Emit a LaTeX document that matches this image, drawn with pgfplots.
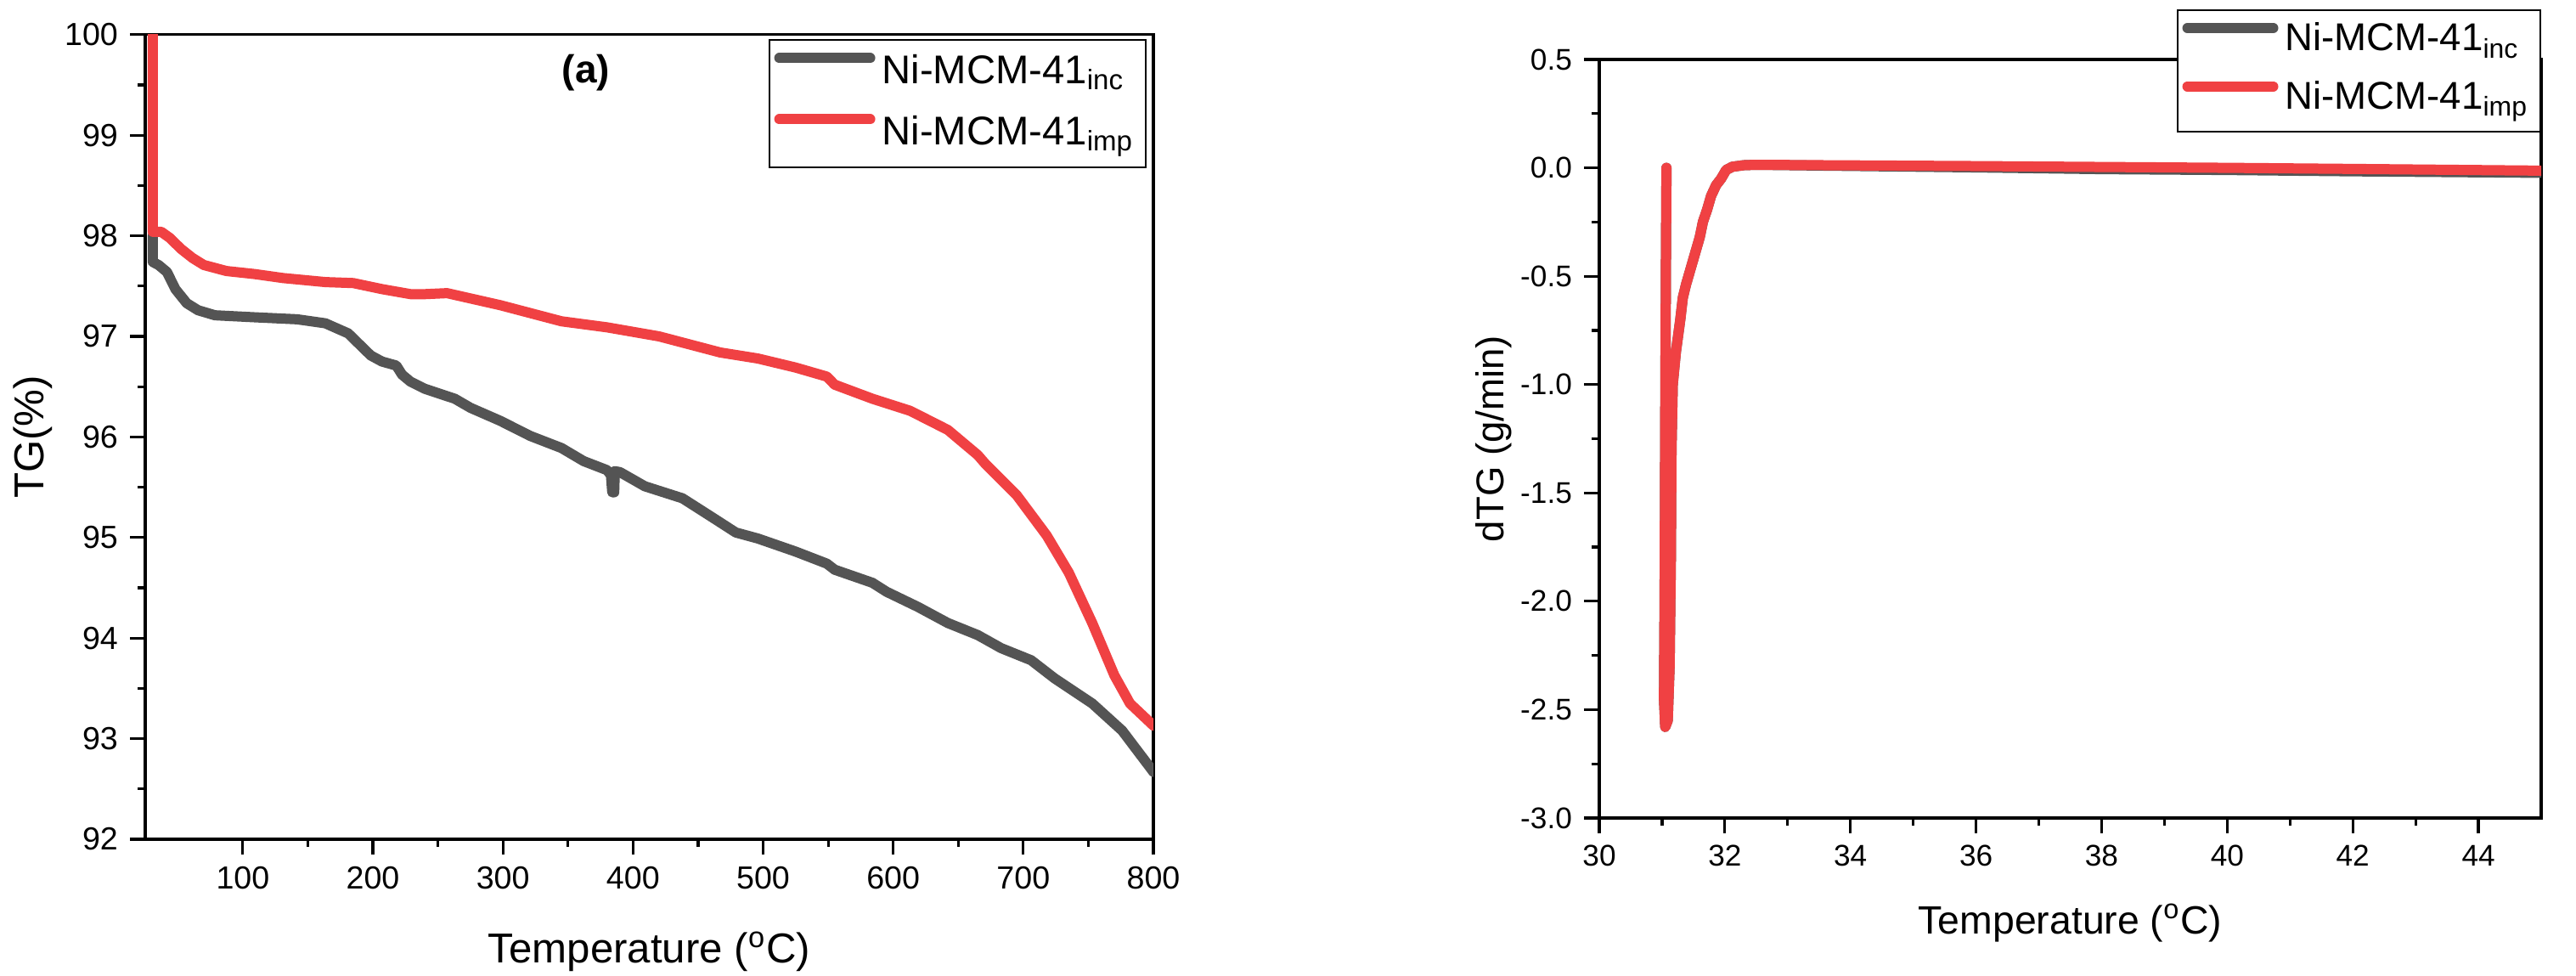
\documentclass[border=0pt]{standalone}
\usepackage{fontspec}
\setmainfont{Liberation Sans}
\usepackage{pgfplots}
\pgfplotsset{compat=1.18}
\definecolor{cgray}{RGB}{84,84,84}
\definecolor{cred}{RGB}{240,65,67}

\pgfplotstableread{
T TG
30.8 98.0
30.8 97.74
35.2 97.71
41.7 97.64
48.2 97.47
56.9 97.33
65.6 97.26
78.6 97.21
109 97.19
141.8 97.17
163.5 97.13
181 97.03
189.7 96.92
198.4 96.81
207 96.75
218 96.71
222.4 96.62
228.9 96.55
239.7 96.48
263 96.38
275 96.29
298 96.16
321 96.01
345 95.89
362 95.76
380 95.67
383 95.62
384 95.45
385.5 95.45
386 95.66
390 95.65
409 95.51
438 95.39
461 95.20
479 95.05
496 94.99
525 94.86
549 94.74
555 94.68
584 94.55
595 94.46
619 94.31
642 94.15
665 94.03
683 93.90
706 93.78
724 93.60
753 93.35
776 93.08
800 92.67
}\tginc

\pgfplotstableread{
T TG
30.8 100.5
30.8 98.04
37.3 98.04
43.8 97.98
52.5 97.87
61.3 97.78
70 97.71
87.4 97.65
109 97.62
131 97.58
163.5 97.54
185 97.53
207 97.47
229 97.42
240 97.42
257 97.43
298 97.31
345 97.15
380 97.09
420 97.0
467 96.84
496 96.78
525 96.69
549 96.60
555 96.52
584 96.38
613 96.26
642 96.07
665 95.82
671 95.73
695 95.42
718 95.02
735 94.65
753 94.15
770 93.63
782 93.35
800 93.13
}\tgimp

\pgfplotstableread{
T D
31.07 0.0
31.06 -0.5
31.05 -1.2
31.04 -2.0
31.03 -2.45
31.05 -2.58
31.09 -2.55
31.12 -2.30
31.14 -1.80
31.15 -1.30
31.17 -1.00
31.22 -0.85
31.29 -0.70
31.33 -0.60
31.38 -0.54
31.45 -0.47
31.52 -0.40
31.60 -0.32
31.65 -0.25
31.72 -0.19
31.78 -0.13
31.86 -0.08
31.94 -0.05
32.02 -0.01
32.12 0.005
32.30 0.012
32.50 0.014
33.60 0.010
36 0.002
38 -0.006
40 -0.010
42 -0.016
45 -0.023
}\dtginc

\pgfplotstableread{
T D
31.07 0.0
31.06 -0.5
31.05 -1.2
31.04 -2.0
31.03 -2.45
31.05 -2.58
31.09 -2.55
31.12 -2.30
31.14 -1.80
31.15 -1.30
31.17 -1.00
31.22 -0.85
31.29 -0.70
31.33 -0.60
31.38 -0.54
31.45 -0.47
31.52 -0.40
31.60 -0.32
31.65 -0.25
31.72 -0.19
31.78 -0.13
31.86 -0.08
31.94 -0.05
32.02 -0.01
32.12 0.005
32.30 0.012
32.50 0.014
33.60 0.012
36 0.008
38 0.004
40 0.000
42 -0.005
45 -0.013
}\dtgimp

\pgfplotsset{
  myaxis/.style={
    scale only axis,
    axis line style={line width=0.8pt},
    every tick/.style={black, line width=0.8pt},
    major tick length=4.5pt,
    minor tick length=2.25pt,
    tick align=outside,
    tick pos=left,
    /pgf/number format/assume math mode=true,
    legend cell align=left,
  },
  myline/.style={line width=3pt, line join=round, line cap=round},
}

\begin{document}
\begin{tikzpicture}
\useasboundingbox (0,0) rectangle (758.25pt,287pt);

% ---------- left panel: TG ----------
\begin{axis}[myaxis,
  at={(42.75pt,40pt)}, anchor=south west,
  width=296.75pt, height=236.8pt,
  xmin=25, xmax=800, ymin=92, ymax=100,
  xtick={100,200,...,800}, ytick={92,93,...,100},
  minor x tick num=1, minor y tick num=1,
  tick label style={font=\fontsize{9.4}{11}\selectfont},
  xlabel={Temperature (\textsuperscript{o}C)},
  ylabel={TG(\%)},
  xlabel style={font=\fontsize{12.3}{14}\selectfont, at={(axis description cs:0.5,0)}, anchor=base, yshift=-36.25pt},
  ylabel style={font=\fontsize{12.3}{14}\selectfont, at={(axis description cs:-0.1003,0.5)}, anchor=base},
  legend image code/.code={\draw[#1] (0pt,4.4pt) -- (26.75pt,4.4pt);},
  legend style={at={(rel axis cs:0.9933,0.9947)}, anchor=north east,
    draw=black, line width=0.5pt, inner xsep=1.5pt, inner ysep=1.8pt, row sep=2pt,
    font=\fontsize{11.8}{13}\selectfont,
    nodes={inner ysep=2pt, inner xsep=2pt, text height=9pt, text depth=3pt}},
]
\addplot[myline, cgray] table[x=T, y=TG] {\tginc};
\addlegendentry{Ni-MCM-41\textsubscript{inc}}
\addplot[myline, cred] table[x=T, y=TG] {\tgimp};
\addlegendentry{Ni-MCM-41\textsubscript{imp}}
\node[font=\bfseries\fontsize{11.5}{12}\selectfont] at (axis cs:363.8,99.62) {(a)};
\end{axis}

% ---------- right panel: dTG ----------
\begin{axis}[myaxis,
  at={(470.75pt,46.25pt)}, anchor=south west,
  width=277.25pt, height=223.25pt,
  xmin=30, xmax=45, ymin=-3, ymax=0.5,
  xtick={30,32,...,44},
  ytick={-3,-2.5,...,0.5},
  yticklabels={-3.0,-2.5,-2.0,-1.5,-1.0,-0.5,0.0,0.5},
  minor x tick num=1, minor y tick num=1,
  tick label style={font=\fontsize{8.8}{10}\selectfont},
  xlabel={Temperature (\textsuperscript{o}C)},
  ylabel={dTG (g/min)},
  xlabel style={font=\fontsize{11.6}{14}\selectfont, at={(axis description cs:0.5,0)}, anchor=base, yshift=-34pt},
  ylabel style={font=\fontsize{11.4}{14}\selectfont, at={(axis description cs:-0.1019,0.5)}, anchor=base},
  legend image code/.code={\draw[#1] (0pt,4pt) -- (25.25pt,4pt);},
  legend style={at={(rel axis cs:1.0,1.0661)}, anchor=north east,
    draw=black, line width=0.5pt, inner xsep=1.5pt, inner ysep=1.5pt, row sep=1.7pt,
    font=\fontsize{11.4}{13}\selectfont,
    nodes={inner ysep=2pt, inner xsep=2pt, text height=8.5pt, text depth=3pt}},
]
\addplot[myline, cgray] table[x=T, y=D] {\dtginc};
\addlegendentry{Ni-MCM-41\textsubscript{inc}}
\addplot[myline, cred] table[x=T, y=D] {\dtgimp};
\addlegendentry{Ni-MCM-41\textsubscript{imp}}
\end{axis}
\end{tikzpicture}
\end{document}
